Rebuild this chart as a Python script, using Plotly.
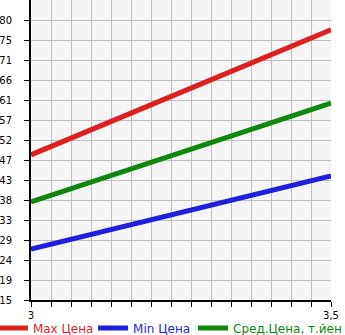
import plotly.graph_objects as go

# data
x_vals = [3.0, 3.5]
max_price = [48.7, 77.7]
min_price = [26.8, 43.8]
avg_price = [37.8, 60.7]
y_tick_labels = ["15", "19", "24", "29", "33", "38", "43", "47", "52", "57", "61", "66", "71", "75", "80"]
x_tick_labels = ["3", "3,5"]

ystep = 65 / 14
ytickvals = [15 + i * ystep for i in range(15)]
xtickvals = [3 + i * (0.5 / 15) for i in range(16)]
xticktext = [x_tick_labels[0]] + [""] * 14 + [x_tick_labels[1]]

fig = go.Figure()
series = [
    ("Max Цена", max_price, "#dd1f1f", "legend", -0.127),
    ("Min Цена", min_price, "#1f1fdd", "legend2", 0.207),
    ("Сред.Цена, т.йен", avg_price, "#0f870f", "legend3", 0.54),
]
legends = {}
for name, vals, col, lg, lx in series:
    fig.add_trace(go.Scatter(
        x=x_vals, y=vals, mode="lines",
        line=dict(color=col, width=5),
        name=f"<span style='color:{col}'>{name}</span>",
        legend=lg,
    ))
    legends[lg] = dict(orientation="h", x=lx, xanchor="left", y=-0.093, yanchor="middle",
                       font=dict(size=12), itemwidth=30, borderwidth=0,
                       bgcolor="rgba(0,0,0,0)")

fig.update_layout(
    width=345, height=335,
    margin=dict(l=31, r=14, t=0, b=35, autoexpand=False),
    paper_bgcolor="white",
    plot_bgcolor="#f5f5f5",
    font=dict(family="DejaVu Sans", size=10, color="black"),
    showlegend=True,
    **legends,
)
fig.update_xaxes(
    range=[3, 3.5], tickvals=xtickvals, ticktext=xticktext,
    showgrid=True, gridcolor="#c0c0c0", gridwidth=1,
    showline=True, linecolor="black", linewidth=2,
    ticks="outside", ticklen=5, tickcolor="black", zeroline=False,
    tickfont=dict(size=10),
)
fig.update_yaxes(
    range=[15, 15 + 15 * ystep], tickvals=ytickvals, ticktext=y_tick_labels,
    showgrid=True, gridcolor="#c0c0c0", gridwidth=1,
    showline=True, linecolor="black", linewidth=2,
    ticks="outside", ticklen=5, tickcolor="black", zeroline=False,
    tickfont=dict(size=10), ticklabelstandoff=10,
)
fig.write_html("out.html")
